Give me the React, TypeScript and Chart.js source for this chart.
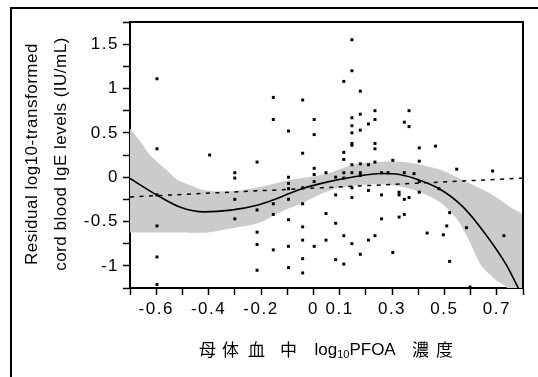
import React, { useEffect, useRef } from 'react';
import { Chart, registerables } from 'chart.js';

Chart.register(...registerables);

// ---- tick labels ----
const xTickLabels = ['-0.6', '-0.4', '-0.2', '0', '0.1', '0.3', '0.5', '0.7'];
const yTickLabels = ['1.5', '1', '0.5', '0', '-0.5', '-1'];

// ---- titles ----
const yTitleLines = ['Residual log10-transformed', 'cord blood IgE levels (IU/mL)'];
const xTitleLeft = ['母', '体', '血', '中'];
const xTitleMain = 'log';
const xTitleSub = '10';
const xTitleTail = 'PFOA';
const xTitleRight = ['濃', '度'];

// ---- scatter (residuals) ----
const scatterX = [
  -0.597, -0.597, -0.597, -0.597, -0.597, -0.597,
  -0.396,
  -0.30, -0.30, -0.30, -0.30,
  -0.215, -0.215, -0.215, -0.215, -0.215,
  -0.153, -0.153, -0.153, -0.153, -0.153,
  -0.095, -0.095, -0.095, -0.095, -0.095, -0.095, -0.095, -0.095,
  -0.041, -0.041, -0.041, -0.041, -0.041, -0.041, -0.041, -0.041,
  0.003, 0.003, 0.003, 0.003, 0.003, 0.003,
  0.048, 0.048, 0.048,
  0.085, 0.085, 0.085, 0.085,
  0.116, 0.116, 0.116, 0.116, 0.116, 0.116, 0.116,
  0.147, 0.147, 0.147, 0.147, 0.147, 0.147, 0.147, 0.147, 0.147, 0.147, 0.147, 0.147,
  0.179, 0.179, 0.179, 0.179, 0.179, 0.179, 0.179,
  0.21, 0.21, 0.21, 0.21,
  0.235, 0.235, 0.235, 0.235, 0.235, 0.235,
  0.26, 0.26, 0.26,
  0.285,
  0.303, 0.303,
  0.327, 0.327, 0.327,
  0.347, 0.347, 0.347, 0.347,
  0.365, 0.365, 0.365,
  0.384,
  0.404, 0.404, 0.404, 0.404,
  0.434, 0.466, 0.479, 0.496, 0.509,
  0.52, 0.52,
  0.547, 0.584, 0.598, 0.684, 0.727,
];
const scatterY = [
  1.11, 0.32, -0.2, -0.55, -0.9, -1.21,
  0.25,
  0.05, -0.01, -0.25, -0.47,
  0.17, -0.37, -0.62, -0.76, -1.05,
  0.9, 0.65, -0.3, -0.42, -0.82,
  0.52, 0.0, -0.07, -0.13, -0.25, -0.48, -0.78, -1.02,
  0.87, 0.27, -0.12, -0.3, -0.56, -0.71, -0.92, -1.08,
  0.65, 0.48, 0.1, 0.03, -0.05, -0.78,
  0.05, -0.41, -0.71,
  0.0, -0.2, -0.52, -0.93,
  1.08, 0.28, 0.2, 0.05, -0.01, -0.66, -0.98,
  1.55, 1.2, 0.67, 0.58, 0.5, 0.38, 0.36, 0.14, 0.05, -0.12, -0.23, -0.75,
  0.97, 0.71, 0.53, 0.15, 0.05, 0.02, -0.87,
  0.6, 0.14, -0.15, -0.71,
  0.75, 0.65, 0.38, 0.32, 0.17, -0.66,
  0.05, -0.2, -0.47,
  0.05,
  0.19, -0.85,
  -0.17, -0.2, -0.45,
  0.62, 0.05, -0.25, -0.42,
  0.75, 0.57, -0.23,
  0.04,
  0.33, 0.18, -0.05, -0.17,
  -0.63, 0.35, -0.13, -0.65, -0.55,
  -0.4, -0.95,
  0.09, -0.57, -1.24, 0.07, -0.66,
];

// ---- smooth fit (solid) ----
const fitX = [-0.7, -0.597, -0.505, -0.416, -0.315, -0.215, -0.149, -0.095, -0.041, 0.055, 0.146, 0.26, 0.329, 0.406, 0.479, 0.571, 0.66, 0.737, 0.781, 0.8];
const fitY = [-0.015, -0.203, -0.342, -0.392, -0.372, -0.316, -0.252, -0.188, -0.128, -0.053, 0.0, 0.042, 0.03, -0.034, -0.128, -0.335, -0.655, -0.993, -1.245, -1.35];

// ---- linear fit (dashed) ----
const linX = [-0.7, 0.8];
const linY = [-0.223, -0.011];

// ---- confidence band ----
const bandUpperX = [-0.7, -0.66, -0.62, -0.56, -0.52, -0.47, -0.416, -0.315, -0.215, -0.095, -0.041, 0.055, 0.151, 0.26, 0.336, 0.418, 0.489, 0.584, 0.686, 0.749, 0.8];
const bandUpperY = [0.55, 0.40, 0.24, 0.08, -0.03, -0.09, -0.147, -0.158, -0.116, -0.034, -0.008, 0.042, 0.141, 0.173, 0.173, 0.135, 0.079, -0.053, -0.203, -0.335, -0.448];
const bandLowerX = [-0.7, -0.505, -0.403, -0.315, -0.215, -0.149, -0.095, -0.041, 0.024, 0.088, 0.177, 0.26, 0.336, 0.406, 0.482, 0.546, 0.597, 0.64, 0.698, 0.737, 0.8];
const bandLowerY = [-0.624, -0.624, -0.624, -0.579, -0.523, -0.429, -0.353, -0.29, -0.195, -0.128, -0.09, -0.082, -0.109, -0.166, -0.279, -0.466, -0.73, -0.993, -1.163, -1.245, -1.6];

const FONT = '"Liberation Sans", Arial, Helvetica, sans-serif';
const CJK = '"Noto Sans CJK JP", "Noto Sans CJK SC", sans-serif';

const decorPlugin = {
  id: 'decor',
  beforeDraw(chart: any) {
    (chart.ctx as any).letterSpacing = '1.5px';
  },
  afterDraw(chart: any) {
    const ctx = chart.ctx as any;
    const a = chart.chartArea;
    ctx.save();
    ctx.letterSpacing = '0px';
    ctx.strokeStyle = '#000';
    ctx.fillStyle = '#000';
    ctx.lineWidth = 2;
    // plot box top/right
    ctx.beginPath();
    ctx.moveTo(a.left - 1, a.top);
    ctx.lineTo(a.right, a.top);
    ctx.lineTo(a.right, a.bottom + 1);
    ctx.stroke();
    // outer frame (top & left)
    ctx.beginPath();
    ctx.moveTo(11, chart.height + 2);
    ctx.lineTo(11, 8);
    ctx.lineTo(chart.width + 2, 8);
    ctx.stroke();

    // y title
    const cy = (a.top + a.bottom) / 2 - 1;
    const lineXs = [32, 61];
    ctx.font = `17px ${FONT}`;
    ctx.letterSpacing = '0.5px';
    ctx.textAlign = 'center';
    ctx.textBaseline = 'middle';
    yTitleLines.forEach((t, i) => {
      ctx.save();
      ctx.translate(lineXs[i], cy);
      ctx.rotate(-Math.PI / 2);
      ctx.fillText(t, 0, 0);
      ctx.restore();
    });

    // x title
    const cx = (a.left + a.right) / 2;
    const ty = 350;
    ctx.letterSpacing = '0px';
    ctx.textAlign = 'left';
    ctx.textBaseline = 'middle';
    ctx.font = `17px ${CJK}`;
    const leftOffsets = [-127.5, -104.5, -78.5, -46.5];
    xTitleLeft.forEach((c, i) => ctx.fillText(c, cx + leftOffsets[i], ty));
    const rightOffsets = [85.5, 109.5];
    xTitleRight.forEach((c, i) => ctx.fillText(c, cx + rightOffsets[i], ty));
    let px = cx - 12;
    ctx.font = `17px ${FONT}`;
    ctx.fillText(xTitleMain, px, ty);
    px += ctx.measureText(xTitleMain).width;
    ctx.font = `11px ${FONT}`;
    ctx.fillText(xTitleSub, px, ty + 5);
    px += ctx.measureText(xTitleSub).width;
    ctx.font = `17px ${FONT}`;
    ctx.fillText(xTitleTail, px, ty);
    ctx.restore();
  },
};

export default function App() {
  const ref = useRef<HTMLCanvasElement | null>(null);

  useEffect(() => {
    if (!ref.current) return;
    const scatterData = scatterX.map((x, i) => ({ x, y: scatterY[i] }));
    const fitData = fitX.map((x, i) => ({ x, y: fitY[i] }));
    const linData = linX.map((x, i) => ({ x, y: linY[i] }));
    const bandData = [
      ...bandUpperX.map((x, i) => ({ x, y: bandUpperY[i] })),
      ...bandLowerX.map((x, i) => ({ x, y: bandLowerY[i] })).reverse(),
    ];

    const fmtX = (v: number) => String(Math.round(v * 10) / 10);
    const fmtY = (v: number) => String(Math.round(v * 4) / 4);

    const chart = new Chart(ref.current, {
      type: 'line',
      data: {
        datasets: [
          {
            label: 'residuals',
            data: scatterData,
            showLine: false,
            pointStyle: 'rect',
            pointRadius: 2.1,
            pointBorderWidth: 0,
            pointBackgroundColor: '#000',
            borderColor: 'rgba(0,0,0,0)',
          },
          {
            label: 'smooth',
            data: fitData,
            borderColor: '#000',
            borderWidth: 1.6,
            pointRadius: 0,
            cubicInterpolationMode: 'monotone',
            fill: false,
          },
          {
            label: 'linear',
            data: linData,
            borderColor: '#000',
            borderWidth: 1.5,
            borderDash: [4, 5.5],
            pointRadius: 0,
            fill: false,
          },
          {
            label: 'band',
            data: bandData,
            borderColor: 'rgba(0,0,0,0)',
            borderWidth: 0,
            backgroundColor: '#cbcbcb',
            pointRadius: 0,
            tension: 0.3,
            fill: 'shape',
          },
        ],
      } as any,
      options: {
        responsive: false,
        animation: false,
        events: [],
        layout: { padding: { left: 0, top: 22, right: 15, bottom: 0 } },
        plugins: { legend: { display: false }, tooltip: { enabled: false } },
        scales: {
          x: {
            type: 'linear',
            min: -0.7,
            max: 0.8,
            afterFit: (s: any) => { s.height = 89; },
            ticks: {
              stepSize: 0.1,
              autoSkip: false,
              maxRotation: 0,
              minRotation: 0,
              padding: 4,
              color: '#000',
              font: { family: FONT, size: 17 },
              callback: (v: any) => {
                const s = fmtX(Number(v));
                return xTickLabels.includes(s) ? s : '';
              },
            },
            grid: { display: true, drawOnChartArea: false, drawTicks: true, tickLength: 7, tickWidth: 1.5, tickColor: '#000' },
            border: { display: true, color: '#000', width: 2 },
          },
          y: {
            type: 'linear',
            min: -1.25,
            max: 1.75,
            afterFit: (s: any) => { s.width = 130; },
            ticks: {
              stepSize: 0.25,
              autoSkip: false,
              padding: 4,
              color: '#000',
              font: { family: FONT, size: 17 },
              callback: (v: any) => {
                const s = fmtY(Number(v));
                return yTickLabels.includes(s) ? s : '';
              },
            },
            grid: { display: true, drawOnChartArea: false, drawTicks: true, tickLength: 7, tickWidth: 1.5, tickColor: '#000' },
            border: { display: true, color: '#000', width: 2 },
          },
        },
      } as any,
      plugins: [decorPlugin as any],
    });
    return () => chart.destroy();
  }, []);

  return (
    <div style={{ position: 'fixed', left: 0, top: 0, width: 538, height: 377, background: '#fff' }}>
      <canvas ref={ref} width={538} height={377} style={{ display: 'block', width: 538, height: 377 }} />
    </div>
  );
}
